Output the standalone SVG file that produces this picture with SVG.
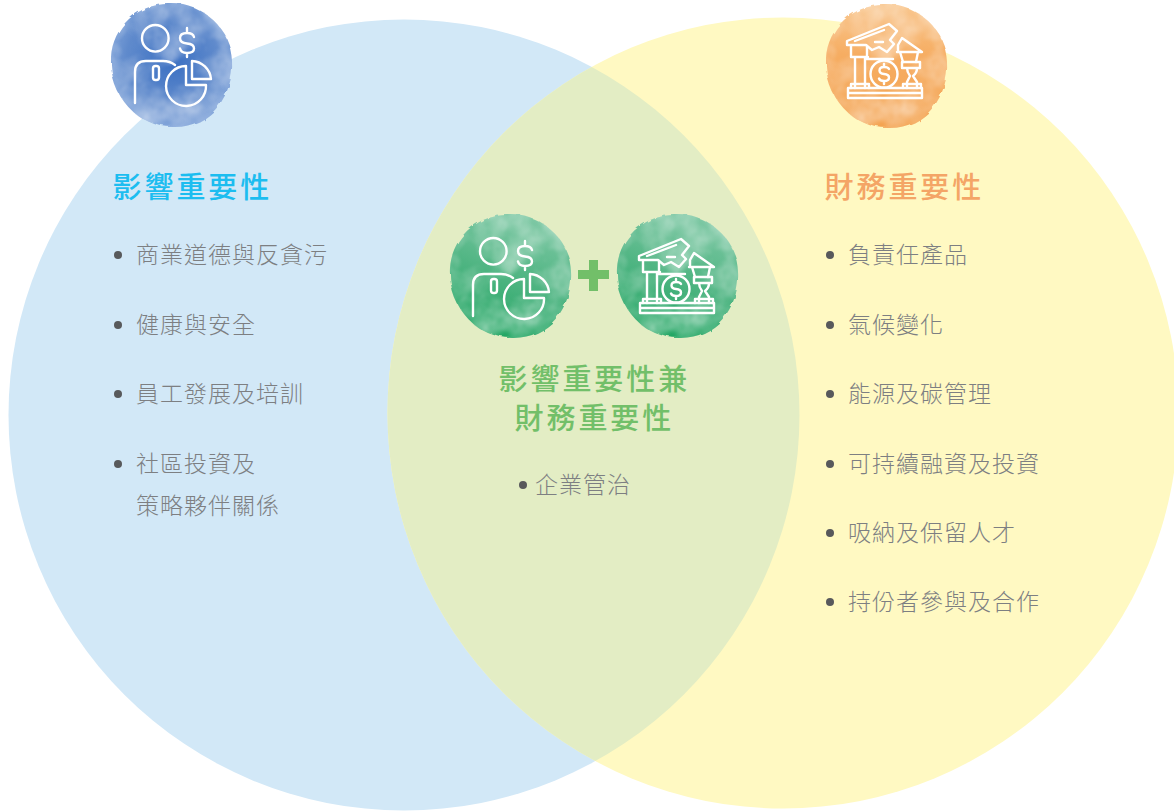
<svg xmlns="http://www.w3.org/2000/svg" width="1174" height="811" viewBox="0 0 1174 811">
<style>
text{font-family:"Noto Sans CJK TC","Noto Sans CJK SC",sans-serif}
.b{font-size:23px;letter-spacing:1px;fill:#7d7f82;font-weight:300}
.t{font-size:29px;letter-spacing:2.95px;font-weight:500}
.d{fill:#58595b}
.i{fill:none;stroke:#fff;stroke-width:2.4;stroke-linejoin:round;stroke-linecap:round}
</style>
<defs>
<filter id="wc" x="-15%" y="-15%" width="130%" height="130%" color-interpolation-filters="sRGB">
<feTurbulence type="fractalNoise" baseFrequency="0.045" numOctaves="4" seed="4" result="n"/>
<feDisplacementMap in="SourceGraphic" in2="n" scale="6" result="g"/>
<feTurbulence type="fractalNoise" baseFrequency="0.03" numOctaves="4" seed="9"/>
<feColorMatrix values="0 0 0 0 1  0 0 0 0 1  0 0 0 0 1  1.1 0 0 0 -0.42"/>
<feGaussianBlur stdDeviation="1"/>
<feComposite in2="g" operator="in" result="m"/>
<feMerge><feMergeNode in="g"/><feMergeNode in="m"/></feMerge>
</filter>
<radialGradient id="gb" cx="50%" cy="45%" r="62%"><stop offset="0" stop-color="#3a6fc2"/><stop offset=".6" stop-color="#5f8acc"/><stop offset="1" stop-color="#8fafdf"/></radialGradient>
<linearGradient id="go" x1="0" y1="0" x2="0" y2="1"><stop offset="0" stop-color="#f9c78f"/><stop offset=".4" stop-color="#f6ad62"/><stop offset="1" stop-color="#f4a452"/></linearGradient>
<linearGradient id="gg" x1="0.7" y1="0" x2="0.4" y2="1"><stop offset="0" stop-color="#80c9a6"/><stop offset=".5" stop-color="#50b583"/><stop offset="1" stop-color="#22a663"/></linearGradient>
<path id="blob" d="M-60-8C-58-38-34-61-2-61C30-63 60-38 61-4C63 30 40 62 4 62C-32 63-62 32-60-8Z"/>
<g id="person" class="i">
<circle cx="155.300" cy="38.300" r="13.300"/>
<path d="M135 103V72Q135 61 146 61H163Q170 61 175 65"/>
<rect x="153" y="66" width="6" height="14" rx="2.500"/>
<path d="M194 37Q193 33 187 33Q180 33 180 38Q180 43 187 43.500Q194 44 194 48.500Q194 53 187 53Q181 53 180 48.500M187 28V33M187 53V57"/>
<path d="M186 66V85H206A20 20 0 1 1 186 66Z"/>
<path d="M192 61A20 20 0 0 1 211 79H192Z"/>
</g>
<g id="bank" class="i">
<path d="M847 41L889 24L897 31L890 40L894 44L887 52L879 47L872 50L866 45H847Z"/>
<path d="M855 41L884 30M875 42H883"/>
<path d="M851 46V57H867V46M851 57H868M855 57V88M865 57V88M851 88V84H869V88M867 59H893"/>
<path d="M902 38L898 45V52H897H922L902 38ZM900 52L903 62M918 52L916 62"/>
<path d="M902 62H920V68H902ZM907 68Q907 72 910 76L907 82V88M917 68Q917 73 913 76L917 82V88M903 88V84H921V88"/>
<circle cx="884" cy="74" r="13.500"/>
<path d="M889 69Q888 67 884 67Q879.500 67 879.500 70.500Q879.500 73.500 884 74Q889 74.500 889 77.500Q889 81 884 81Q880 81 879 78.500M884 64V67M884 81V84"/>
<path d="M848 88H922V98H848ZM848 93H922"/>
</g>
</defs>

<g id="circles">
<circle cx="404" cy="415" r="395.500" fill="#d2e8f7"/>
<circle cx="783" cy="413" r="395.500" fill="#fff9c2"/>
<clipPath id="ov"><circle cx="404" cy="415" r="395.500"/></clipPath>
<circle cx="783" cy="413" r="395.500" fill="#e3edc4" clip-path="url(#ov)"/>
</g>

<g id="node-impact">
<use href="#blob" x="171" y="65" fill="url(#gb)" filter="url(#wc)"/>
<use href="#person"/>
<text class="t" x="112.500" y="197.500" fill="#1cbdf0">影響重要性</text>
<g class="items">
<circle class="d" cx="118" cy="255" r="4"/><text class="b" x="136" y="263">商業道德與反貪污</text>
<circle class="d" cx="118" cy="325" r="4"/><text class="b" x="136" y="333">健康與安全</text>
<circle class="d" cx="118" cy="394" r="4"/><text class="b" x="136" y="402">員工發展及培訓</text>
<circle class="d" cx="118" cy="464" r="4"/><text class="b" x="136" y="472">社區投資及</text>
<text class="b" x="136" y="514">策略夥伴關係</text>
</g>
</g>

<g id="node-financial">
<use href="#blob" x="886" y="66" fill="url(#go)" filter="url(#wc)"/>
<use href="#bank"/>
<text class="t" x="824.500" y="197.500" fill="#f4a566">財務重要性</text>
<g class="items">
<circle class="d" cx="830" cy="255" r="4"/><text class="b" x="848" y="263">負責任產品</text>
<circle class="d" cx="830" cy="325" r="4"/><text class="b" x="848" y="333">氣候變化</text>
<circle class="d" cx="830" cy="394" r="4"/><text class="b" x="848" y="402">能源及碳管理</text>
<circle class="d" cx="830" cy="464" r="4"/><text class="b" x="848" y="472">可持續融資及投資</text>
<circle class="d" cx="830" cy="533" r="4"/><text class="b" x="848" y="541">吸納及保留人才</text>
<circle class="d" cx="830" cy="602" r="4"/><text class="b" x="848" y="610">持份者參與及合作</text>
</g>
</g>

<g id="node-both">
<use href="#blob" x="510" y="276" fill="url(#gg)" filter="url(#wc)"/>
<use href="#person" x="338" y="213"/>
<use href="#blob" x="677" y="276" fill="url(#gg)" filter="url(#wc)"/>
<use href="#bank" x="-208" y="215"/>
<path d="M578 270H589V260H598V270H609V279H598V291H589V279H578Z" fill="#72bf69"/>
<text class="t" x="498.500" y="389.500" fill="#72bf69">影響重要性兼</text>
<text class="t" x="514.500" y="428.500" fill="#72bf69">財務重要性</text>
<circle class="d" cx="523" cy="485" r="4"/><text class="b" x="535" y="493">企業管治</text>
</g>

<g id="connectors"></g>
</svg>
